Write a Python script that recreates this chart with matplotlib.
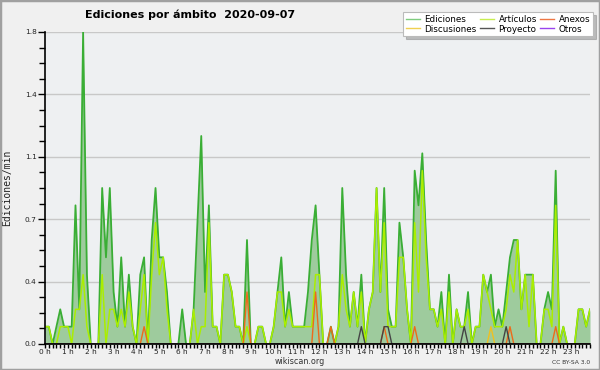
import numpy as np
import matplotlib
matplotlib.use('Agg')
import matplotlib.pyplot as plt
from matplotlib.patches import Rectangle

# edits per minute, one value per 10 minute slot (144 slots in the day)
ediciones = [
    0.1, 0.1, 0, 0.1, 0.2, 0.1, 0.1, 0.1, 0.8, 0.2,
    1.8, 0.4, 0, 0, 0, 0.9, 0.5, 0.9, 0.3, 0.1,
    0.5, 0.1, 0.4, 0.1, 0, 0.4, 0.5, 0, 0.6, 0.9,
    0.5, 0.5, 0.3, 0, 0, 0, 0.2, 0, 0, 0.2,
    0.7, 1.2, 0.3, 0.8, 0.1, 0.1, 0, 0.4, 0.4, 0.3,
    0.1, 0.1, 0, 0.6, 0, 0, 0.1, 0.1, 0, 0,
    0.1, 0.3, 0.5, 0.1, 0.3, 0.1, 0.1, 0.1, 0.1, 0.3,
    0.6, 0.8, 0.4, 0, 0, 0.1, 0, 0.1, 0.9, 0.4,
    0.1, 0.3, 0.1, 0.4, 0, 0.2, 0.3, 0.9, 0.3, 0.9,
    0.2, 0.1, 0.1, 0.7, 0.5, 0.2, 0, 1.0, 0.8, 1.1,
    0.6, 0.2, 0.2, 0.1, 0.3, 0, 0.4, 0, 0.2, 0.1,
    0.1, 0.3, 0, 0.1, 0.1, 0.4, 0.3, 0.4, 0.1, 0.2,
    0.1, 0.3, 0.5, 0.6, 0.6, 0.2, 0.4, 0.4, 0.4, 0,
    0, 0.2, 0.3, 0.2, 1.0, 0, 0.1, 0, 0, 0,
    0.2, 0.2, 0.1, 0.2]

articulos = [
    0.1, 0.1, 0, 0, 0.1, 0.1, 0.1, 0, 0.2, 0.2,
    0.4, 0.1, 0, 0, 0, 0.4, 0, 0.2, 0.2, 0.1,
    0.2, 0.1, 0.3, 0.1, 0, 0.2, 0.4, 0, 0.4, 0.7,
    0.4, 0.5, 0.2, 0, 0, 0, 0, 0, 0, 0.2,
    0, 0.1, 0.1, 0.7, 0.1, 0.1, 0, 0.4, 0.4, 0.3,
    0.1, 0.1, 0, 0.1, 0, 0, 0.1, 0.1, 0, 0,
    0.1, 0.3, 0.3, 0.1, 0.2, 0.1, 0.1, 0.1, 0.1, 0.1,
    0.1, 0.4, 0.4, 0, 0, 0, 0, 0.1, 0.4, 0.2,
    0.1, 0.3, 0.1, 0.3, 0, 0.2, 0.3, 0.9, 0.3, 0.7,
    0.1, 0.1, 0.1, 0.5, 0.5, 0.2, 0, 0.7, 0.3, 1.0,
    0.5, 0.2, 0.2, 0.1, 0.2, 0, 0.3, 0, 0.2, 0.1,
    0.1, 0.2, 0, 0.1, 0.1, 0.4, 0.3, 0.2, 0.1, 0.1,
    0.1, 0.2, 0.4, 0.3, 0.6, 0.2, 0.4, 0.1, 0.4, 0,
    0, 0.2, 0.2, 0.1, 0.8, 0, 0.1, 0, 0, 0,
    0.2, 0.2, 0.1, 0.2]

# the small series are mostly zero: (slot, value)
anexos_pts = [(26, 0.1), (53, 0.3), (71, 0.3), (75, 0.1), (89, 0.1),
              (97, 0.1), (122, 0.1), (134, 0.1)]
discusiones_pts = [(117, 0.1)]
proyecto_pts = [(83, 0.1), (89, 0.1), (90, 0.1), (110, 0.1), (121, 0.1)]
otros_pts = []

hour_labels = ['%d h' % h for h in range(24)]


def expand(pts, n=144):
    arr = np.zeros(n)
    for i, v in pts:
        arr[i] = v
    return arr


x = np.arange(len(ediciones)) / 6.0

fig = plt.figure(figsize=(6, 3.7), dpi=100, facecolor='#f0f0f0')
ax = fig.add_axes([45 / 600, 26 / 370, 545 / 600, 312 / 370])
ax.set_facecolor('#eef0f2')

ax.fill_between(x, ediciones, 0, color='#9ecb9d', lw=0, zorder=2)
ax.plot(x, ediciones, color='#3aae35', lw=1.3, zorder=3)
ax.plot(x, articulos, color='#aaee00', lw=1.1, zorder=4)
ax.plot(x, expand(discusiones_pts), color='#f0c020', lw=1, zorder=5)
ax.plot(x, expand(anexos_pts), color='#ee6a1a', lw=1, zorder=5)
ax.plot(x, expand(proyecto_pts), color='#444444', lw=1, zorder=5)
ax.plot(x, expand(otros_pts), color='#9944ee', lw=1, zorder=5)

ax.set_xlim(0, 143 / 6.0)
ax.set_ylim(0, 1.8)

yt = [0, 0.36, 0.72, 1.08, 1.44, 1.8]
ax.set_yticks(yt)
ax.set_yticklabels(['0.0', '0.4', '0.7', '1.1', '1.4', '1.8'])
ax.set_yticks(np.arange(0, 1.81, 0.09), minor=True)
ax.set_xticks(range(24))
ax.set_xticklabels(hour_labels)
ax.set_xticks(np.arange(0, 143 / 6.0 + 0.01, 1 / 6.0), minor=True)

ax.grid(axis='y', color='#c8c8c8', lw=1, zorder=1)
ax.set_axisbelow(True)
for s in ['top', 'right']:
    ax.spines[s].set_visible(False)
for s in ['left', 'bottom']:
    ax.spines[s].set_color('black')
    ax.spines[s].set_linewidth(1.2)
    ax.spines[s].set_zorder(6)

ax.tick_params(axis='both', which='both', direction='out', color='black',
               width=1, labelsize=5.3, labelcolor='#222222')
ax.tick_params(axis='y', which='major', length=5, pad=1)
ax.tick_params(axis='y', which='minor', length=4)
ax.tick_params(axis='x', which='both', length=3, pad=0.5)

ax.set_ylabel('Ediciones/min', family='DejaVu Sans Mono', fontsize=7,
              color='#222222', labelpad=9)

fig.text(85 / 600, 1 - 15 / 370, 'Ediciones por ámbito  2020-09-07',
         ha='left', va='center', fontsize=8, fontweight='bold')
fig.text(300 / 600, 1 - 362 / 370, 'wikiscan.org', ha='center',
         va='center', fontsize=5.8, color='#333333')
fig.text(590 / 600, 1 - 363 / 370, 'CC BY-SA 3.0', ha='right',
         va='center', fontsize=4.3, color='#333333')

# legend, filled column by column
names = ['Ediciones', 'Discusiones', 'Artículos', 'Proyecto', 'Anexos', 'Otros']
cols = ['#7fcc7f', '#f0d050', '#c8ee50', '#555555', '#ee7744', '#9944ee']
handles = [plt.Line2D([], [], color=c, lw=1) for c in cols]
leg = fig.legend(handles, names, ncol=3, loc='upper right',
                 bbox_to_anchor=(593 / 600, 1 - 12 / 370), fontsize=6.3,
                 frameon=True, fancybox=False, shadow={'color': '#888888'},
                 handlelength=1.6, handletextpad=0.5, columnspacing=0.4,
                 labelspacing=0.1, borderpad=0.3, borderaxespad=0)
leg.get_frame().set_edgecolor('#bbbbbb')
leg.get_frame().set_linewidth(0.8)

fig.patches.append(Rectangle((0, 0), 1, 1, transform=fig.transFigure,
                             fill=False, edgecolor='#a0a0a0', lw=2.5))

fig.savefig('out.png', dpi=100, facecolor=fig.get_facecolor())
